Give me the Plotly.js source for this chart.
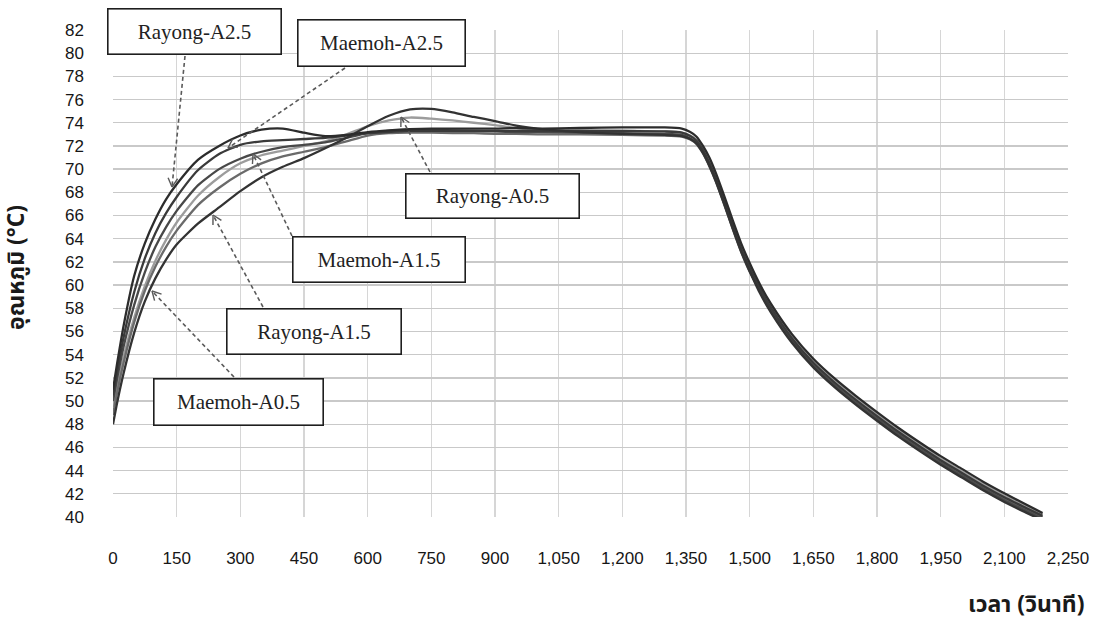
<!DOCTYPE html>
<html>
<head>
<meta charset="utf-8">
<script src="https://cdn.plot.ly/plotly-3.0.1.min.js"></script>
<style>
  html, body { margin: 0; padding: 0; background: #fff; }
  #chart { width: 1102px; height: 628px; }
</style>
</head>
<body>
<div id="chart"></div>
<script>
// Heating / cooling temperature traces (time in seconds, temperature in °C)
const time = [0, 10, 25, 50, 75, 100, 125, 150, 200, 250, 300, 350, 400, 450, 500, 550, 600, 650, 700, 750, 800, 850, 900, 950, 1000,
  1100, 1200, 1300, 1340, 1360, 1375, 1390, 1405, 1420, 1440, 1460, 1480, 1500,
  1525, 1550, 1600, 1650, 1700, 1750, 1800, 1850, 1900, 1950, 2000, 2050, 2100, 2150, 2190];

const rayongA25 = [51.0, 53.3, 56.5, 60.8, 63.6, 65.7, 67.4, 68.7, 70.8, 72.0, 72.9, 73.4, 73.5, 73.15, 72.85, 72.95, 73.2, 73.35, 73.45, 73.5, 73.5, 73.5, 73.5, 73.55, 73.5,
  73.55, 73.6, 73.6, 73.5, 73.2, 72.8, 72.0, 71.0, 69.7, 67.7, 65.6, 63.6, 61.9,
  60.0, 58.4, 55.75, 53.65, 51.95, 50.45, 49.05, 47.7, 46.45, 45.25, 44.15, 43.05, 42.05, 41.1, 40.35];

const maemohA25 = [50.5, 52.6, 55.5, 59.4, 62.3, 64.5, 66.2, 67.6, 69.9, 71.3, 72.1, 72.4, 72.5, 72.6, 72.7, 72.9, 73.1, 73.2, 73.3, 73.3, 73.3, 73.3, 73.3, 73.3, 73.3,
  73.3, 73.3, 73.25, 73.15, 72.85, 72.45, 71.65, 70.55, 69.25, 67.25, 65.15, 63.15, 61.5,
  59.65, 58.05, 55.4, 53.3, 51.6, 50.1, 48.7, 47.35, 46.1, 44.9, 43.8, 42.7, 41.7, 40.8, 40.1];

const maemohA15 = [50.0, 52.0, 54.7, 58.3, 61.1, 63.3, 65.0, 66.4, 68.6, 70.0, 70.9, 71.5, 71.9, 72.1, 72.3, 72.7, 73.1, 73.3, 73.4, 73.4, 73.35, 73.3, 73.25, 73.2, 73.2,
  73.15, 73.1, 73.05, 72.95, 72.65, 72.25, 71.45, 70.35, 69.05, 67.05, 64.95, 62.95, 61.25,
  59.4, 57.8, 55.15, 53.05, 51.35, 49.85, 48.45, 47.1, 45.85, 44.65, 43.55, 42.45, 41.45, 40.55, 39.85];

const rayongA05 = [49.5, 51.3, 53.8, 57.2, 59.9, 62.1, 63.9, 65.4, 67.7, 69.3, 70.5, 71.2, 71.6, 72.0, 72.4, 73.0, 73.7, 74.2, 74.45, 74.35, 74.2, 74.0, 73.8, 73.55, 73.4,
  73.35, 73.3, 73.25, 73.15, 72.9, 72.5, 71.75, 70.65, 69.45, 67.45, 65.35, 63.35, 61.65,
  59.8, 58.2, 55.55, 53.45, 51.75, 50.25, 48.85, 47.5, 46.25, 45.05, 43.95, 42.85, 41.85, 40.95, 40.25];

const maemohA05 = [48.0, 49.9, 52.4, 55.9, 58.6, 60.6, 62.2, 63.5, 65.3, 66.7, 68.1, 69.3, 70.2, 70.95, 71.8, 72.7, 73.7, 74.6, 75.15, 75.2, 74.9, 74.5, 74.15, 73.75, 73.5,
  73.2, 73.05, 72.95, 72.85, 72.6, 72.2, 71.4, 70.3, 69.0, 67.0, 64.9, 62.9, 61.2,
  59.25, 57.65, 55.0, 52.9, 51.2, 49.7, 48.3, 46.95, 45.7, 44.5, 43.4, 42.3, 41.3, 40.4, 39.7];

const rayongA15 = [48.8, 50.8, 53.3, 56.8, 59.5, 61.6, 63.3, 64.7, 66.9, 68.4, 69.6, 70.5, 71.1, 71.5, 71.9, 72.4, 72.9, 73.1, 73.15, 73.15, 73.1, 73.1, 73.05, 73.05, 73.0,
  73.0, 72.95, 72.9, 72.8, 72.55, 72.15, 71.35, 70.25, 68.95, 66.95, 64.85, 62.85, 61.15,
  59.55, 57.95, 55.3, 53.2, 51.5, 50.0, 48.6, 47.25, 46.0, 44.8, 43.7, 42.6, 41.6, 40.7, 40.0];

const seriesNames = ['Rayong-A0.5', 'Rayong-A1.5', 'Maemoh-A1.5', 'Maemoh-A2.5', 'Maemoh-A0.5', 'Rayong-A2.5'];
const seriesValues = [rayongA05, rayongA15, maemohA15, maemohA25, maemohA05, rayongA25];
const seriesColors = ['#9c9c9c', '#6a6a6a', '#484848', '#3a3a3a', '#333333', '#2c2c2c'];

const xTitle = 'เวลา (วินาที)';
const yTitle = 'อุณหภูมิ (°C)';

const traces = seriesNames.map((name, i) => ({
  type: 'scatter',
  mode: 'lines',
  name: name,
  x: time,
  y: seriesValues[i],
  line: { color: seriesColors[i], width: 2.3, shape: 'spline', smoothing: 0.6 },
  hoverinfo: 'skip'
}));

// plot-area geometry in page pixels
const M = { l: 113, r: 34, t: 30, b: 111 };
const W = 1102, H = 628;
const PW = W - M.l - M.r, PH = H - M.t - M.b;
const px = v => (v - M.l) / PW;
const py = v => (H - M.b - v) / PH;

// callout boxes: box [x0, y0, x1, y1] and dashed pointer (from -> tip), in page pixels
const callouts = [
  { name: 'Rayong-A2.5', box: [107, 8, 282, 55],    from: [185, 56],  tip: [172, 187] },
  { name: 'Maemoh-A2.5', box: [297, 19, 466, 67],   from: [345, 68],  tip: [228, 148] },
  { name: 'Rayong-A0.5', box: [405, 173, 580, 219], from: [430, 172], tip: [401, 117] },
  { name: 'Maemoh-A1.5', box: [292, 236, 466, 283], from: [292, 236], tip: [253, 154] },
  { name: 'Rayong-A1.5', box: [226, 308, 402, 355], from: [263, 307], tip: [213, 215] },
  { name: 'Maemoh-A0.5', box: [153, 378, 324, 426], from: [234, 377], tip: [152, 291] }
];

const shapes = [];
const annotations = [];
const BW = 1.6;

callouts.forEach(c => {
  const [fx, fy] = c.from, [tx, ty] = c.tip;
  shapes.push({
    type: 'line', xref: 'paper', yref: 'paper',
    x0: px(fx), y0: py(fy), x1: px(tx), y1: py(ty),
    line: { color: '#5a5a5a', width: 1.6, dash: '4px,3px' }
  });
  // open arrowhead at the tip
  const dx = fx - tx, dy = fy - ty, len = Math.hypot(dx, dy);
  const ux = dx / len, uy = dy / len, L = 10, a = 0.5;
  [a, -a].forEach(ang => {
    const rx = ux * Math.cos(ang) - uy * Math.sin(ang);
    const ry = ux * Math.sin(ang) + uy * Math.cos(ang);
    shapes.push({
      type: 'line', xref: 'paper', yref: 'paper',
      x0: px(tx), y0: py(ty), x1: px(tx + rx * L), y1: py(ty + ry * L),
      line: { color: '#5a5a5a', width: 1.4 }
    });
  });
  const [x0, y0, x1, y1] = c.box;
  annotations.push({
    xref: 'paper', yref: 'paper',
    x: px((x0 + x1) / 2), y: py((y0 + y1) / 2),
    xanchor: 'center', yanchor: 'middle',
    text: c.name, showarrow: false,
    width: (x1 - x0) - 2 * BW, height: (y1 - y0) - 2 * BW,
    bgcolor: '#ffffff', bordercolor: '#1e1e1e', borderwidth: BW, borderpad: 0,
    font: { family: 'Liberation Serif, DejaVu Serif, serif', size: 21, color: '#222' }
  });
});

const thaiFont = 'Noto Sans Thai, Noto Sans, Liberation Sans, DejaVu Sans, sans-serif';

annotations.push({
  xref: 'paper', yref: 'paper', x: px(1026), y: py(605),
  xanchor: 'center', yanchor: 'middle', showarrow: false,
  text: '<b>' + xTitle + '</b>',
  font: { family: thaiFont, size: 23, color: '#1a1a1a' }
});
annotations.push({
  xref: 'paper', yref: 'paper', x: px(17), y: py(268),
  xanchor: 'center', yanchor: 'middle', showarrow: false, textangle: -90,
  text: '<b>' + yTitle + '</b>',
  font: { family: thaiFont, size: 23, color: '#1a1a1a' }
});

const tickFont = { family: 'Liberation Sans, Arial, sans-serif', size: 17, color: '#161616' };

const layout = {
  width: W, height: H,
  margin: M,
  paper_bgcolor: '#ffffff', plot_bgcolor: '#ffffff',
  showlegend: false,
  xaxis: {
    range: [0, 2250], tick0: 0, dtick: 150, tickformat: ',d',
    showgrid: true, gridcolor: '#d6d6d6', gridwidth: 1.2,
    zeroline: false, showline: false, ticks: '',
    ticklabelstandoff: 29, tickfont: tickFont, fixedrange: true
  },
  yaxis: {
    range: [40, 82], tick0: 40, dtick: 2,
    showgrid: true, gridcolor: '#c9c9c9', gridwidth: 1.3,
    zeroline: false, showline: false, ticks: '',
    ticklabelstandoff: 28, tickfont: tickFont, fixedrange: true
  },
  shapes: shapes,
  annotations: annotations
};

Plotly.newPlot('chart', traces, layout, { displayModeBar: false, staticPlot: true });
</script>
</body>
</html>
